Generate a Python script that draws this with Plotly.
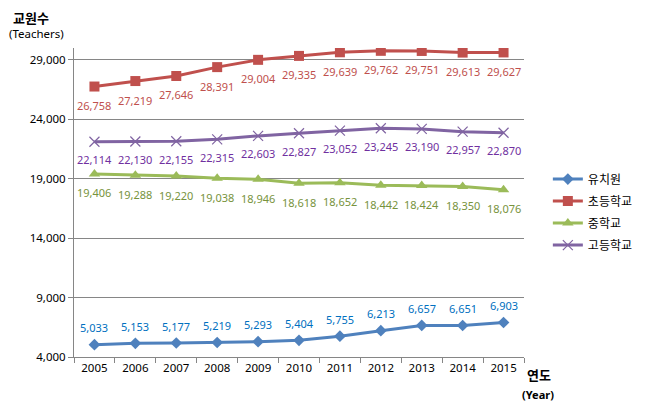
import plotly.graph_objects as go

years = ["2005", "2006", "2007", "2008", "2009", "2010", "2011", "2012", "2013", "2014", "2015"]
kinder = [5033, 5153, 5177, 5219, 5293, 5404, 5755, 6213, 6657, 6651, 6903]
elem = [26758, 27219, 27646, 28391, 29004, 29335, 29639, 29762, 29751, 29613, 29627]
middle = [19406, 19288, 19220, 19038, 18946, 18618, 18652, 18442, 18424, 18350, 18076]
high = [22114, 22130, 22155, 22315, 22603, 22827, 23052, 23245, 23190, 22957, 22870]

names = ["유치원", "초등학교", "중학교", "고등학교"]
series = [kinder, elem, middle, high]
line_colors = ["#4F81BD", "#C0504D", "#9BBB59", "#8064A2"]
label_colors = ["#0070C0", "#C0504D", "#77933C", "#7030A0"]
symbols = ["diamond", "square", "triangle-up", "x-thin"]
sizes = [9, 10, 10, 10]
shifts = [17, -19, -19, -18]

NUM = "Noto Sans, Noto Sans CJK KR, sans-serif"
KR = "Noto Sans CJK KR, Noto Sans, sans-serif"

fig = go.Figure()
for i, (nm, vals) in enumerate(zip(names, series)):
    marker = dict(symbol=symbols[i], size=sizes[i], color=line_colors[i])
    if symbols[i] == "x-thin":
        marker["line"] = dict(color=line_colors[i], width=1.2)
    fig.add_trace(go.Scatter(
        x=years, y=vals, name=nm, mode="lines+markers",
        line=dict(color=line_colors[i], width=3),
        marker=marker, legendgroup=nm,
    ))
    for j, v in enumerate(vals):
        fig.add_annotation(x=j, y=v, xref="x", yref="y", text=f"{v:,}",
                           showarrow=False, yshift=shifts[i],
                           font=dict(family=NUM, size=11, color=label_colors[i]))

fig.add_annotation(xref="paper", yref="paper", x=-0.139, y=1.097, xanchor="left", yanchor="middle",
                   text="<b>교원수</b>", showarrow=False, font=dict(family=NUM, size=13, color="#000"))
fig.add_annotation(xref="paper", yref="paper", x=-0.148, y=1.048, xanchor="left", yanchor="middle",
                   text="(Teachers)", showarrow=False, font=dict(family=NUM, size=11.5, color="#000"))
fig.add_annotation(xref="paper", yref="paper", x=1.002, y=-0.057, xanchor="left", yanchor="middle",
                   text="<b>연도</b>", showarrow=False, font=dict(family=KR, size=13, color="#000"))
fig.add_annotation(xref="paper", yref="paper", x=0.992, y=-0.12, xanchor="left", yanchor="middle",
                   text="<b>(Year)</b>", showarrow=False, font=dict(family=NUM, size=11, color="#000"))

fig.update_layout(
    width=642, height=402,
    margin=dict(l=66, r=118, t=40, b=53),
    paper_bgcolor="white", plot_bgcolor="white",
    showlegend=True,
    legend=dict(x=1.053, y=0.469, xanchor="left", yanchor="middle",
                font=dict(family=KR, size=12, color="#000"),
                tracegroupgap=3, traceorder="grouped", bgcolor="rgba(0,0,0,0)"),
    xaxis=dict(type="category", range=[-0.5, len(years) - 0.5], showgrid=False, showline=True,
               linecolor="#868686", linewidth=1,
               ticks="outside", tickson="boundaries", ticklen=5, tickcolor="#868686",
               tickfont=dict(family=NUM, size=11.5, color="#000"), zeroline=False),
    yaxis=dict(range=[4000, 30000], tick0=4000, dtick=5000, tickformat=",",
               showgrid=True, gridcolor="#868686", gridwidth=1,
               showline=True, linecolor="#868686", linewidth=1,
               ticks="outside", ticklen=5, tickcolor="#868686",
               tickfont=dict(family=NUM, size=11.5, color="#000"), zeroline=False),
)

fig.write_html("out.html")
